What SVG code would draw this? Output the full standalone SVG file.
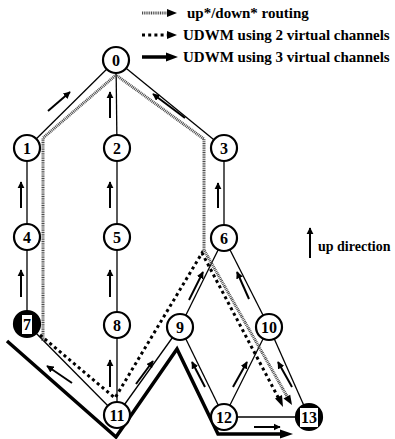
<svg xmlns="http://www.w3.org/2000/svg" width="395" height="439" viewBox="0 0 395 439">
  <style>
    .edge { stroke: #000; stroke-width: 1.3; fill: none; }
    .node circle { fill: #fff; stroke: #000; stroke-width: 2.2; }
    .node.dark circle { fill: #000; }
    .node text { font-family: "Liberation Serif", "Times New Roman", serif; font-weight: bold; font-size: 16px; text-anchor: middle; fill: #000; }
    .lbl { font-family: "Liberation Serif", "Times New Roman", serif; font-weight: bold; font-size: 15px; fill: #000; }
    .up { stroke: #000; stroke-width: 2; fill: none; marker-end: url(#head); }
    .updown { stroke: #4a4a4a; stroke-width: 3; stroke-dasharray: 1 0.8; fill: none; }
    .vc2 { stroke: #000; stroke-width: 3; stroke-dasharray: 3 3.2; fill: none; }
    .vc3 { stroke: #000; stroke-width: 3.5; fill: none; stroke-linejoin: miter; }
  </style>
  <defs>
    <marker id="head" viewBox="0 0 10 10" refX="9" refY="5" markerWidth="3.6" markerHeight="3.6" orient="auto" markerUnits="strokeWidth">
      <path d="M0,0 L10,5 L0,10 z" fill="#000"/>
    </marker>
  </defs>

  <!-- legend -->
  <g id="legend">
    <line x1="142" y1="13" x2="168" y2="13" class="updown"/>
    <path d="M167,9 L177,13 L167,17 z" fill="#000"/>
    <text x="187" y="18" class="lbl">up*/down* routing</text>
    <line x1="142" y1="35" x2="168" y2="35" class="vc2"/>
    <path d="M167,31 L177,35 L167,39 z" fill="#000"/>
    <text x="183" y="40" class="lbl">UDWM using 2 virtual channels</text>
    <line x1="142" y1="57" x2="168" y2="57" stroke="#000" stroke-width="3.5"/>
    <path d="M166,52.5 L178,57 L166,61.5 z" fill="#000"/>
    <text x="183" y="62" class="lbl">UDWM using 3 virtual channels</text>
    <line x1="310" y1="258" x2="310" y2="228" class="up"/>
    <text x="318" y="251" class="lbl" font-size="14" style="font-size:14px">up direction</text>
  </g>

  <!-- connectors -->
  <g id="connectors">
    <line class="edge" x1="116" y1="60" x2="27" y2="148"/>
    <line class="edge" x1="116" y1="60" x2="117" y2="148"/>
    <line class="edge" x1="116" y1="60" x2="224" y2="148"/>
    <line class="edge" x1="27" y1="148" x2="27" y2="237"/>
    <line class="edge" x1="117" y1="148" x2="117" y2="237"/>
    <line class="edge" x1="224" y1="148" x2="224" y2="238"/>
    <line class="edge" x1="27" y1="237" x2="27" y2="324"/>
    <line class="edge" x1="117" y1="237" x2="117" y2="325"/>
    <line class="edge" x1="224" y1="238" x2="180" y2="327"/>
    <line class="edge" x1="224" y1="238" x2="269" y2="327"/>
    <line class="edge" x1="27" y1="324" x2="117" y2="415"/>
    <line class="edge" x1="117" y1="325" x2="117" y2="415"/>
    <line class="edge" x1="180" y1="327" x2="117" y2="415"/>
    <line class="edge" x1="180" y1="327" x2="224" y2="417"/>
    <line class="edge" x1="269" y1="327" x2="224" y2="417"/>
    <line class="edge" x1="269" y1="327" x2="309" y2="417"/>
    <line class="edge" x1="224" y1="417" x2="309" y2="417"/>

    <!-- up*/down* route -->
    <polyline class="updown" points="43,341 43,138 116,75 204,139 204,250 288,398"/>
    <path d="M283.5,398.5 L292,405 L290.2,394.7 z" fill="#000"/>

    <!-- 2 virtual channel route -->
    <polyline class="vc2" points="40,335 115,398 202,253 279,399"/>
    <path d="M275,398.5 L283,407 L282,395 z" fill="#000"/>

    <!-- 3 virtual channel route -->
    <polyline class="vc3" points="7,341 116,437 177,349 218,434 282,434"/>
    <path d="M280,429.5 L293,434 L280,438.5 z" fill="#000"/>

    <!-- up-direction hints along links -->
    <line class="up" x1="48" y1="111" x2="70" y2="92"/>
    <line class="up" x1="110" y1="118" x2="110" y2="92"/>
    <line class="up" x1="185" y1="118" x2="153" y2="94"/>
    <line class="up" x1="21" y1="208" x2="21" y2="182"/>
    <line class="up" x1="110" y1="208" x2="110" y2="182"/>
    <line class="up" x1="218" y1="208" x2="218" y2="183"/>
    <line class="up" x1="21" y1="297" x2="21" y2="270"/>
    <line class="up" x1="110" y1="297" x2="110" y2="270"/>
    <line class="up" x1="110" y1="387" x2="110" y2="360"/>
    <line class="up" x1="72" y1="383" x2="47" y2="366"/>
    <line class="up" x1="136" y1="384" x2="153" y2="361"/>
    <line class="up" x1="189" y1="300" x2="203" y2="272"/>
    <line class="up" x1="249" y1="299" x2="237" y2="272"/>
    <line class="up" x1="205" y1="387" x2="192" y2="362"/>
    <line class="up" x1="233" y1="387" x2="247" y2="362"/>
    <line class="up" x1="292" y1="387" x2="278" y2="362"/>
    <line class="up" x1="254" y1="427" x2="280" y2="427"/>
  </g>

  <!-- nodes -->
  <g id="n0" class="node"><circle cx="116" cy="60" r="13"/><text x="116" y="66">0</text></g>
  <g id="n1" class="node"><circle cx="27" cy="148" r="13"/><text x="27" y="154">1</text></g>
  <g id="n2" class="node"><circle cx="117" cy="148" r="13"/><text x="117" y="154">2</text></g>
  <g id="n3" class="node"><circle cx="224" cy="148" r="13"/><text x="224" y="154">3</text></g>
  <g id="n4" class="node"><circle cx="27" cy="237" r="13"/><text x="27" y="243">4</text></g>
  <g id="n5" class="node"><circle cx="117" cy="237" r="13"/><text x="117" y="243">5</text></g>
  <g id="n6" class="node"><circle cx="224" cy="238" r="13"/><text x="224" y="244">6</text></g>
  <g id="n7" class="node dark"><circle cx="27" cy="324" r="13"/><rect x="22" y="315" width="10" height="19" fill="#fff"/><text x="27" y="330">7</text></g>
  <g id="n8" class="node"><circle cx="117" cy="325" r="13"/><text x="117" y="331">8</text></g>
  <g id="n9" class="node"><circle cx="180" cy="327" r="13"/><text x="180" y="333">9</text></g>
  <g id="n10" class="node"><circle cx="269" cy="327" r="13"/><text x="269" y="333">10</text></g>
  <g id="n11" class="node"><circle cx="117" cy="415" r="13"/><text x="117" y="421">11</text></g>
  <g id="n12" class="node"><circle cx="224" cy="417" r="13"/><text x="224" y="423">12</text></g>
  <g id="n13" class="node dark"><circle cx="309" cy="417" r="13"/><rect x="300" y="408" width="18" height="19" fill="#fff"/><text x="309" y="423">13</text></g>
</svg>
